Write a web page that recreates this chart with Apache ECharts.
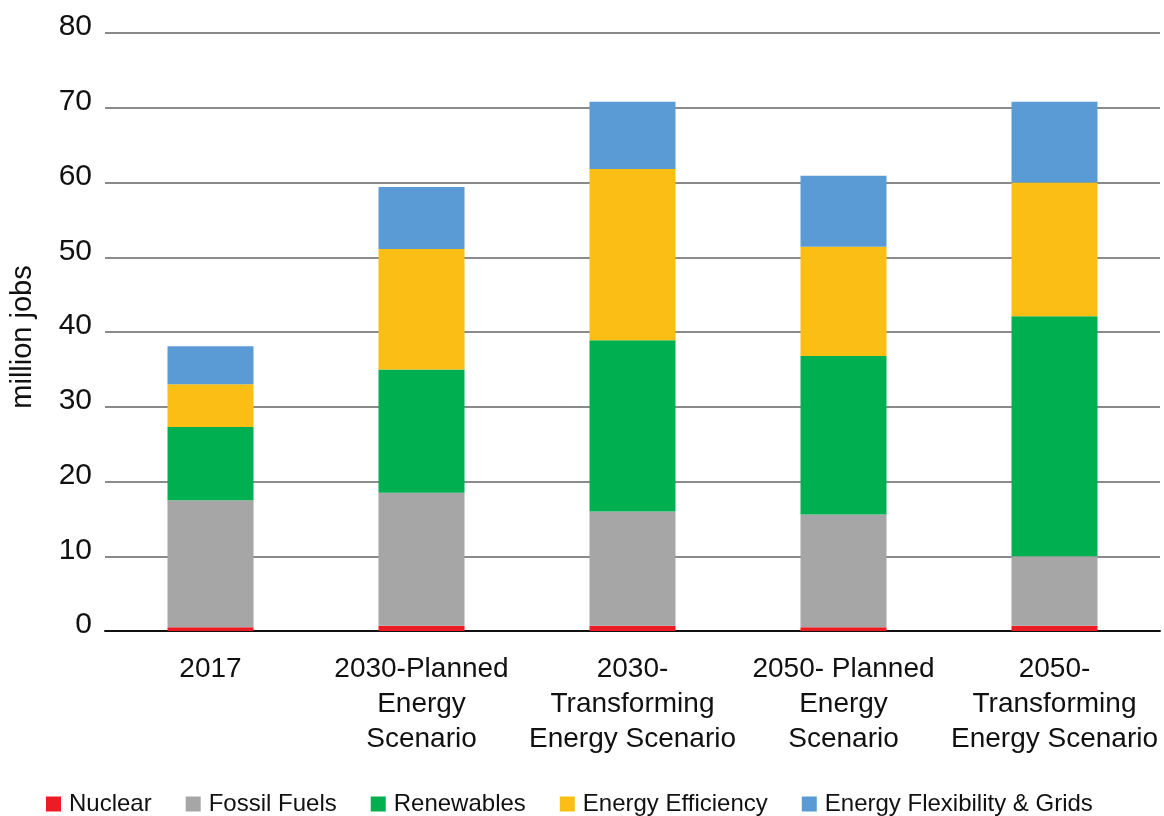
<!DOCTYPE html>
<html>
<head>
<meta charset="utf-8">
<script src="https://cdn.jsdelivr.net/npm/echarts@6/dist/echarts.min.js"></script>
<style>
  html, body { margin: 0; padding: 0; background: #fff; }
  #chart { width: 1164px; height: 816px; }
</style>
</head>
<body>
<div id="chart"></div>
<script>
const categories = [
    "2017",
    "2030-Planned\nEnergy\nScenario",
    "2030-\nTransforming\nEnergy Scenario",
    "2050- Planned\nEnergy\nScenario",
    "2050-\nTransforming\nEnergy Scenario"
];
const nuclear = [0.5, 0.7, 0.7, 0.5, 0.7];
const fossil = [17.0, 17.8, 15.3, 15.1, 9.3];
const renewables = [9.8, 16.5, 22.9, 21.2, 32.1];
const efficiency = [5.7, 16.1, 22.9, 14.6, 17.9];
const flexibility = [5.1, 8.3, 9.0, 9.5, 10.8];
const yTicks = [0, 10, 20, 30, 40, 50, 60, 70, 80];

const chart = echarts.init(document.getElementById("chart"));
const font = "'Liberation Sans', Arial, sans-serif";

function bar(name, data, color) {
    return {
        name: name,
        type: "bar",
        stack: "jobs",
        barWidth: 86,
        data: data,
        itemStyle: { color: color }
    };
}

chart.setOption({
    animation: false,
    textStyle: { fontFamily: font },
    grid: { left: 105, right: 4, top: 33, bottom: 185, outerBoundsMode: "none" },
    legend: {
        left: 41,
        top: 787,
        itemWidth: 15,
        itemHeight: 15,
        itemGap: 34,
        icon: "rect",
        textStyle: { fontSize: 24, color: "#111", fontFamily: font, padding: [0, 0, 0, 3] },
        data: ["Nuclear", "Fossil Fuels", "Renewables", "Energy Efficiency", "Energy Flexibility & Grids"]
    },
    xAxis: {
        type: "category",
        data: categories,
        axisLine: { lineStyle: { color: "#111", width: 2 } },
        axisTick: { show: false },
        axisLabel: {
            fontSize: 28,
            lineHeight: 35,
            color: "#111",
            margin: 21,
            interval: 0,
            fontFamily: font
        }
    },
    yAxis: {
        type: "value",
        min: yTicks[0],
        max: yTicks[yTicks.length - 1],
        interval: 10,
        name: "million jobs",
        nameLocation: "middle",
        nameRotate: 90,
        nameGap: 68,
        nameTextStyle: { fontSize: 29, color: "#111", fontFamily: font, padding: [0, 0, 0, -10] },
        axisLine: { show: false },
        axisTick: { show: false },
        splitLine: { lineStyle: { color: "#8a8a8a", width: 2 } },
        axisLabel: {
            fontSize: 30,
            color: "#111",
            margin: 13,
            verticalAlign: "bottom",
            padding: [0, 0, -9, 0],
            fontFamily: font
        }
    },
    series: [
        bar("Nuclear", nuclear, "#ed1c24"),
        bar("Fossil Fuels", fossil, "#a7a6a7"),
        bar("Renewables", renewables, "#00af50"),
        bar("Energy Efficiency", efficiency, "#fbbe15"),
        bar("Energy Flexibility & Grids", flexibility, "#5a9bd5")
    ]
});
</script>
</body>
</html>
